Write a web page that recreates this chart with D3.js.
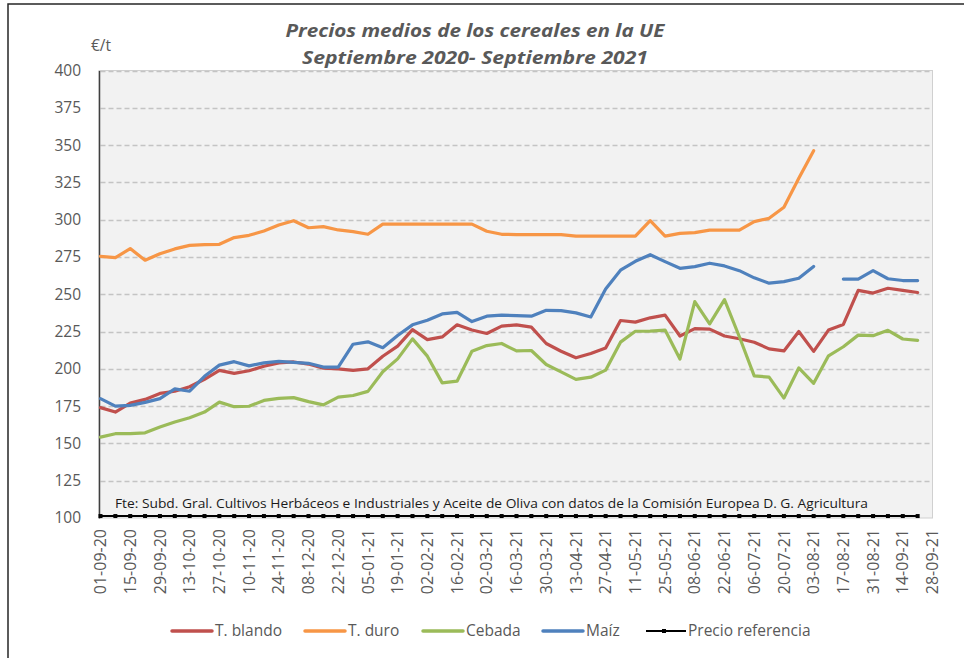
<!DOCTYPE html>
<html>
<head>
<meta charset="utf-8">
<script src="https://cdn.jsdelivr.net/npm/d3@7"></script>
<style>
  html, body { margin: 0; padding: 0; background: #fff; }
  svg { display: block; font-family: 'Open Sans', sans-serif; }
</style>
</head>
<body>
<svg id="chart" width="964" height="658"></svg>
<script>
// weekly quotes (Tuesday), dd-mm-yy
const weeks = [
  '01-09-20', '08-09-20', '15-09-20', '22-09-20', '29-09-20', '06-10-20', '13-10-20', '20-10-20',
  '27-10-20', '03-11-20', '10-11-20', '17-11-20', '24-11-20', '01-12-20', '08-12-20', '15-12-20',
  '22-12-20', '29-12-20', '05-01-21', '12-01-21', '19-01-21', '26-01-21', '02-02-21', '09-02-21',
  '16-02-21', '23-02-21', '02-03-21', '09-03-21', '16-03-21', '23-03-21', '30-03-21', '06-04-21',
  '13-04-21', '20-04-21', '27-04-21', '04-05-21', '11-05-21', '18-05-21', '25-05-21', '01-06-21',
  '08-06-21', '15-06-21', '22-06-21', '29-06-21', '06-07-21', '13-07-21', '20-07-21', '27-07-21',
  '03-08-21', '10-08-21', '17-08-21', '24-08-21', '31-08-21', '07-09-21', '14-09-21', '21-09-21',
];

const xTickLabels = [
  '01-09-20', '15-09-20', '29-09-20', '13-10-20', '27-10-20', '10-11-20', '24-11-20', '08-12-20',
  '22-12-20', '05-01-21', '19-01-21', '02-02-21', '16-02-21', '02-03-21', '16-03-21', '30-03-21',
  '13-04-21', '27-04-21', '11-05-21', '25-05-21', '08-06-21', '22-06-21', '06-07-21', '20-07-21',
  '03-08-21', '17-08-21', '31-08-21', '14-09-21', '28-09-21',
];

const yTicks = [100, 125, 150, 175, 200, 225, 250, 275, 300, 325, 350, 375, 400];

const blando = [
  174, 171, 177, 179.5, 183.5, 185, 188, 193, 199, 197, 198.7, 201.7, 204, 204.6, 203.2, 200.4,
  200, 199, 200, 208.4, 215.2, 226.3, 219.6, 221.4, 229.5, 226, 223.7, 228.6, 229.5, 228, 217, 211.8,
  207.4, 210.3, 214, 232.4, 231.3, 234.2, 236, 222, 227, 226.6, 222, 220.2, 217.8, 213.4,
  212, 225, 211.7, 226, 229.8, 252.6, 250.8, 254, 252.6, 251.2,
];

const duro = [
  275.4, 274.5, 280.6, 272.8, 277.2, 280.4, 282.8, 283.3, 283.5, 288, 289.5, 292.4, 296.4, 299.3, 294.6, 295.3,
  293.1, 292, 290.2, 297, 297, 297, 297, 297, 297, 297, 292.2, 290.2, 290, 290, 290, 290,
  289, 289, 289, 289, 289, 299.3, 289, 290.8, 291.3, 293, 293, 293, 298.7, 300.9,
  308.3, 327.7, 346.2, null, null, null, null, null, null, null,
];

const cebada = [
  154.2, 156.5, 156.5, 157.1, 161, 164.3, 167.2, 171, 177.7, 174.6, 174.9, 178.8, 180.2, 180.7, 178, 175.8,
  181, 182.1, 184.9, 198, 206.7, 220.1, 208.5, 190.6, 191.7, 211.8, 215.6, 217, 212, 212.3, 202.9, 198,
  192.9, 194.4, 199.1, 217.9, 225.2, 225.3, 226, 206.6, 245.1, 230.1, 246.4, 221.5, 195.3, 194.4,
  180.4, 200.6, 190.3, 208.7, 214.8, 222.6, 222.2, 225.8, 220, 219.1,
];

const maiz = [
  180, 175, 175.5, 177.5, 180, 186.6, 185, 195, 202.5, 204.8, 202, 204, 205, 204.3, 203.7, 201.2,
  201.2, 216.5, 218.1, 214.2, 222.3, 229.5, 232.6, 236.8, 237.9, 231.7, 235.3, 236, 235.7, 235.3, 239.2, 239,
  237.5, 234.8, 253.6, 266.1, 272.1, 276.5, 271.9, 267.4, 268.5, 270.8, 269, 265.8, 261, 257.4,
  258.5, 260.7, 268.6, null, 260.2, 260.2, 265.8, 260.4, 259.2, 259.2,
];

const referencia = weeks.map(() => 101.31);

const series = [
  { name: 'T. blando', values: blando, color: '#c0504d' },
  { name: 'T. duro', values: duro, color: '#f79646' },
  { name: 'Cebada', values: cebada, color: '#9bbb59' },
  { name: 'Maíz', values: maiz, color: '#4f81bd' },
];

const parse = d3.utcParse('%d-%m-%y');
const grey = '#595959';

const plot = { left: 100.5, right: 932.5, top: 70.5, bottom: 518 };

const x = d3.scaleUtc()
  .domain([parse('01-09-20'), parse('28-09-21')])
  .range([plot.left, plot.right]);

const y = d3.scaleLinear()
  .domain([100, 400])
  .range([plot.bottom, plot.top]);

const svg = d3.select('#chart');

// outer chart frame
svg.append('rect')
  .attr('x', 8).attr('y', 4)
  .attr('width', 990).attr('height', 700)
  .attr('fill', 'none')
  .attr('stroke', '#262626')
  .attr('stroke-width', 1.5);

// plot area
svg.append('rect')
  .attr('x', plot.left - 1.5).attr('y', plot.top)
  .attr('width', plot.right - plot.left + 1.5).attr('height', plot.bottom - plot.top)
  .attr('fill', '#f2f2f2')
  .attr('stroke', '#d0d0d0')
  .attr('stroke-width', 1);

// gridlines
svg.append('g')
  .selectAll('line')
  .data(yTicks.filter(v => v > 100))
  .join('line')
  .attr('x1', plot.left).attr('x2', plot.right)
  .attr('y1', d => Math.round(y(d)) + 0.5)
  .attr('y2', d => Math.round(y(d)) + 0.5)
  .attr('stroke', '#c4c4c4')
  .attr('stroke-width', 1.3)
  .attr('stroke-dasharray', '5,3');

// y axis
const yAxis = svg.append('g')
  .attr('transform', `translate(${plot.left - 1.5},0)`)
  .call(d3.axisLeft(y).tickValues(yTicks).tickSize(0).tickPadding(18));

yAxis.select('.domain')
  .attr('stroke', '#404040')
  .attr('stroke-width', 1.5);

yAxis.selectAll('text')
  .attr('fill', grey)
  .style('font-family', "'Open Sans', sans-serif")
  .style('font-size', '15.5px');

// x tick labels, rotated
svg.append('g')
  .selectAll('text')
  .data(xTickLabels)
  .join('text')
  .attr('transform', d => `translate(${x(parse(d))},529) rotate(-90)`)
  .attr('dy', '0.35em')
  .attr('text-anchor', 'end')
  .attr('fill', grey)
  .style('font-size', '16px')
  .text(d => d);

// source note
svg.append('text')
  .attr('x', 115).attr('y', 508)
  .attr('fill', '#1a1a1a')
  .attr('textLength', 753)
  .attr('lengthAdjust', 'spacingAndGlyphs')
  .style('font-size', '13.5px')
  .text('Fte: Subd. Gral. Cultivos Herbáceos e Industriales y Aceite de Oliva con datos de la Comisión Europea D. G. Agricultura');

// series lines
const line = d3.line()
  .defined(d => d.v != null)
  .x(d => x(parse(d.week)))
  .y(d => y(d.v));

const toPoints = values => values.map((v, i) => ({ week: weeks[i], v }));

svg.append('g')
  .selectAll('path')
  .data(series)
  .join('path')
  .attr('d', s => line(toPoints(s.values)))
  .attr('fill', 'none')
  .attr('stroke', s => s.color)
  .attr('stroke-width', 3.2)
  .attr('stroke-linejoin', 'round')
  .attr('stroke-linecap', 'round');

// precio referencia
const refPts = toPoints(referencia);
svg.append('path')
  .attr('d', line(refPts))
  .attr('fill', 'none')
  .attr('stroke', '#000')
  .attr('stroke-width', 2);

svg.append('g')
  .selectAll('rect')
  .data(refPts)
  .join('rect')
  .attr('x', d => x(parse(d.week)) - 2)
  .attr('y', d => y(d.v) - 2)
  .attr('width', 4).attr('height', 4)
  .attr('fill', '#000');

// title
const title = svg.append('g')
  .attr('fill', grey)
  .style('font-weight', 'bold')
  .style('font-style', 'italic')
  .style('font-size', '18.5px')
  .attr('text-anchor', 'middle');

title.append('text')
  .attr('x', 475).attr('y', 37)
  .attr('textLength', 379)
  .attr('lengthAdjust', 'spacingAndGlyphs')
  .text('Precios medios de los cereales en la UE');

title.append('text')
  .attr('x', 475).attr('y', 64)
  .attr('textLength', 346)
  .attr('lengthAdjust', 'spacingAndGlyphs')
  .text('Septiembre 2020- Septiembre 2021');

svg.append('text')
  .attr('x', 91).attr('y', 51)
  .attr('fill', grey)
  .style('font-size', '15.5px')
  .text('€/t');

// legend
const legendItems = [
  { name: 'T. blando', color: '#c0504d', x: 172 },
  { name: 'T. duro', color: '#f79646', x: 305 },
  { name: 'Cebada', color: '#9bbb59', x: 423 },
  { name: 'Maíz', color: '#4f81bd', x: 543 },
  { name: 'Precio referencia', color: '#000', x: 646, marker: true },
];

const legend = svg.append('g').attr('transform', 'translate(0,631)');

const item = legend.selectAll('g')
  .data(legendItems)
  .join('g')
  .attr('transform', d => `translate(${d.x},0)`);

item.append('line')
  .attr('x1', 0).attr('x2', 40)
  .attr('stroke', d => d.color)
  .attr('stroke-width', d => d.marker ? 2 : 3.5)
  .attr('stroke-linecap', d => d.marker ? 'butt' : 'round');

item.filter(d => d.marker)
  .append('rect')
  .attr('x', 16).attr('y', -2)
  .attr('width', 4).attr('height', 4)
  .attr('fill', '#000');

item.append('text')
  .attr('x', d => d.marker ? 42 : 43)
  .attr('dy', '0.35em')
  .attr('fill', grey)
  .style('font-size', '15.5px')
  .text(d => d.name);
</script>
</body>
</html>
